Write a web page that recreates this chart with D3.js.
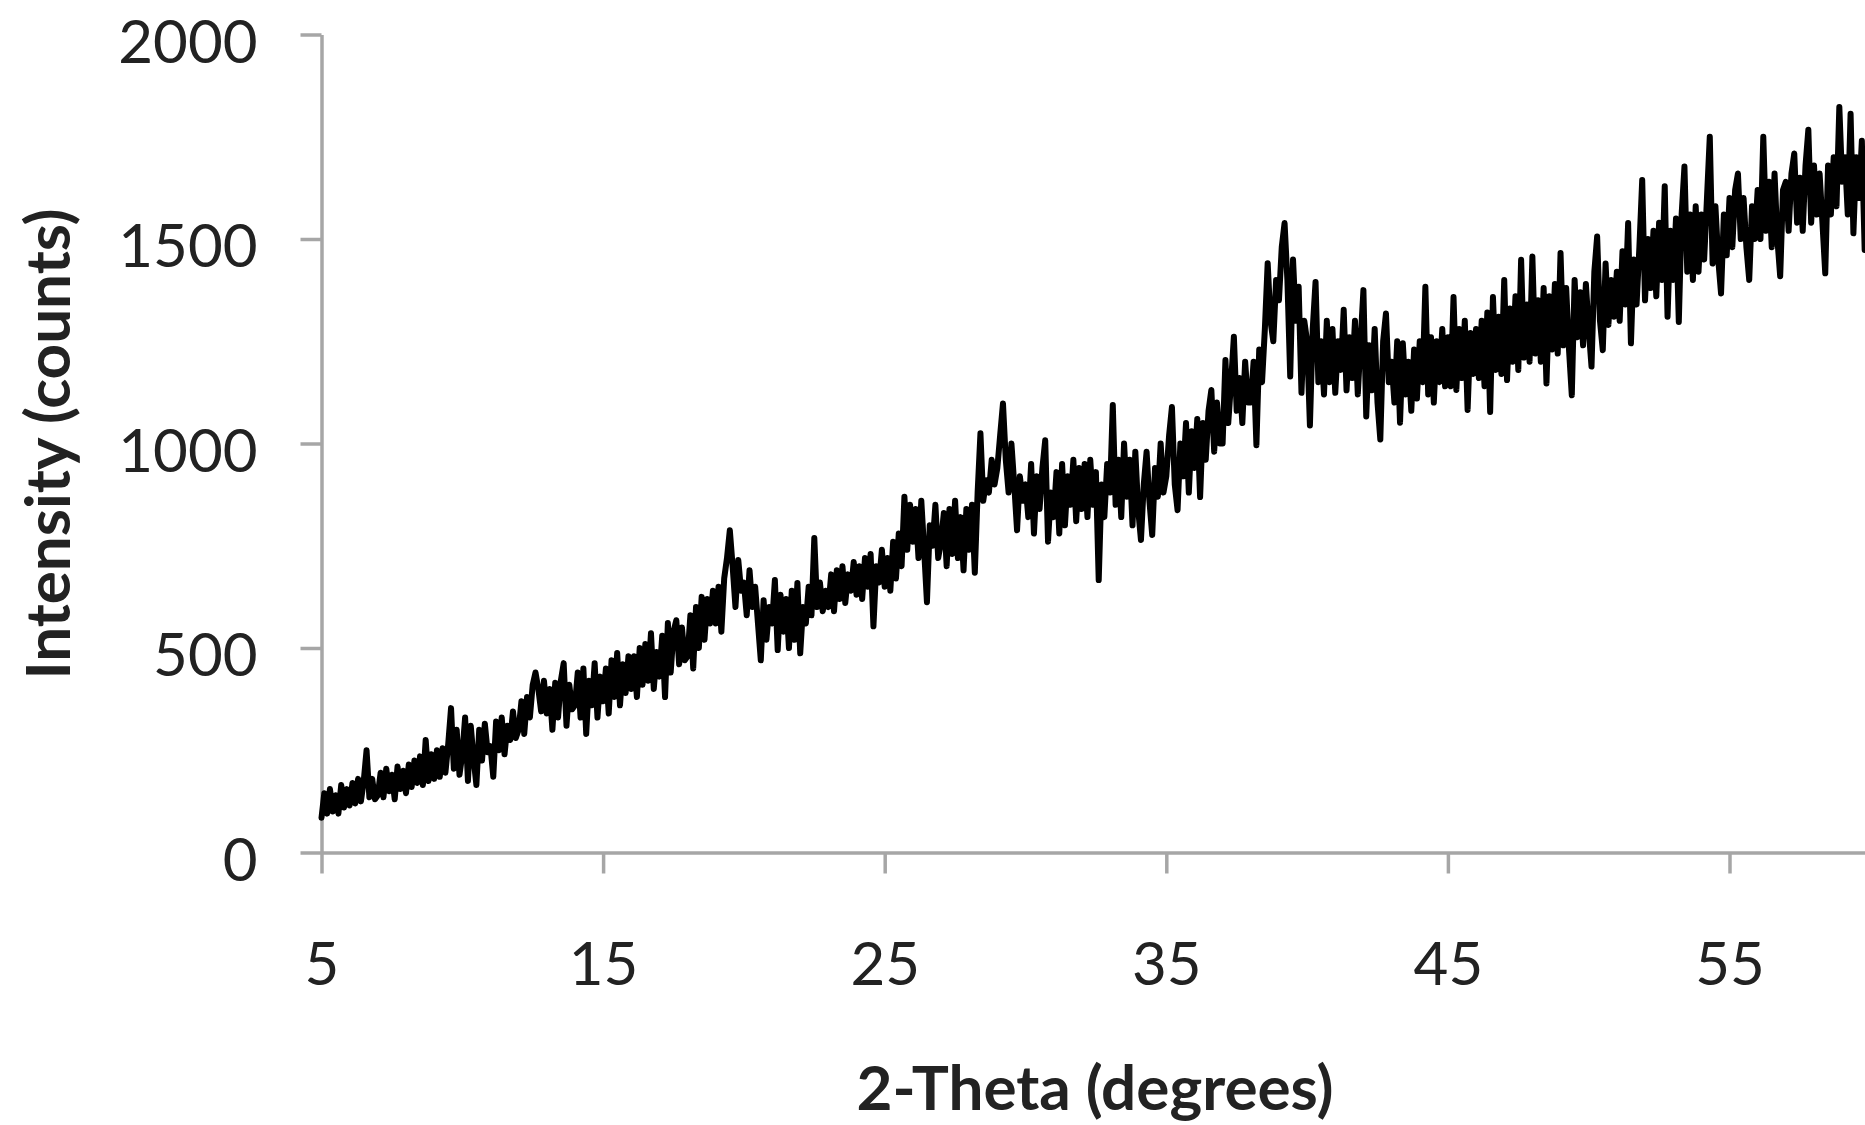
<!DOCTYPE html>
<html><head><meta charset="utf-8">
<script src="https://cdn.jsdelivr.net/npm/d3@7"></script>
<style>html,body{margin:0;padding:0;background:#fff;overflow:hidden;} svg{display:block;}</style>
</head><body>
<script>
// ---- data ----
const xTicks = [5, 15, 25, 35, 45, 55];
const yTicks = [0, 500, 1000, 1500, 2000];
const xTitle = "2-Theta (degrees)";
const yTitle = "Intensity (counts)";
const twoThetaStart = 5;   // degrees, first sample
const twoThetaStep = 0.1;  // degrees between samples
// intensity (counts), one row per degree (x.0 ... x.9)
const intensity = [
  85,145,95,155,100,140,95,165,110,155,          // 5
  115,170,120,180,125,175,250,135,180,130,       // 6
  140,195,135,205,150,190,130,210,155,200,       // 7
  145,215,160,225,170,235,165,275,175,240,       // 8
  180,250,185,255,195,265,353,205,300,190,       // 9
  240,330,175,310,230,165,300,225,315,245,       // 10
  260,185,320,250,330,240,310,275,345,280,       // 11
  300,370,290,380,330,410,440,400,345,420,       // 12
  340,400,300,415,330,420,463,310,410,350,       // 13
  360,440,330,450,290,420,360,463,330,430,       // 14
  370,450,340,470,380,488,360,460,390,480,       // 15
  400,480,380,500,410,510,420,536,400,490,       // 16
  430,530,380,561,440,540,568,460,550,470,       // 17
  480,580,450,600,500,625,520,620,560,640,       // 18
  560,650,540,670,720,788,700,600,715,640,       // 19
  660,580,690,600,650,560,470,617,520,600,       // 20
  560,666,495,630,540,620,500,640,520,659,       // 21
  487,600,560,650,580,769,600,660,590,640,       // 22
  600,680,590,690,620,700,610,680,640,710,       // 23
  630,700,620,720,650,730,553,700,660,740,       // 24
  650,720,640,760,670,780,700,870,740,850,       // 25
  760,840,720,860,740,612,800,750,850,720,       // 26
  760,830,700,840,730,860,720,820,690,840,       // 27
  740,850,684,880,1025,860,910,880,960,900,      // 28
  940,1020,1098,960,880,1000,900,788,920,860,    // 29
  900,820,950,780,920,840,940,1008,760,880,      // 30
  820,930,780,950,800,920,850,960,810,940,       // 31
  840,950,820,960,850,930,666,900,820,950,       // 32
  880,1094,850,960,820,1000,870,960,800,980,     // 33
  840,764,900,980,860,776,940,870,1000,880,      // 34
  920,1020,1089,900,837,1000,920,1050,880,1030,  // 35
  940,1060,869,1050,960,1080,1131,980,1100,1000, // 36
  1000,1204,1050,1150,1261,1080,1160,1050,1200,1100, // 37
  1100,1200,996,1230,1150,1280,1441,1300,1250,1400,  // 38
  1350,1480,1539,1400,1164,1450,1300,1383,1124,1300, // 39
  1250,1044,1280,1395,1150,1250,1120,1300,1150,1280, // 40
  1124,1250,1180,1327,1130,1260,1160,1300,1120,1250, // 41
  1375,1066,1240,1130,1280,1100,1010,1250,1318,1150, // 42
  1200,1100,1250,1051,1245,1120,1200,1080,1230,1110, // 43
  1250,1150,1383,1120,1260,1100,1250,1150,1280,1140, // 44
  1260,1140,1358,1131,1280,1160,1300,1082,1270,1170, // 45
  1280,1160,1300,1140,1320,1077,1358,1180,1310,1170, // 46
  1400,1155,1330,1200,1360,1180,1449,1210,1340,1200, // 47
  1457,1220,1350,1200,1380,1147,1360,1230,1390,1220, // 48
  1466,1240,1380,1230,1118,1400,1260,1370,1240,1390, // 49
  1280,1188,1420,1506,1300,1228,1440,1290,1400,1310, // 50
  1420,1300,1470,1340,1539,1245,1450,1340,1480,1644, // 51
  1350,1500,1380,1520,1360,1540,1400,1629,1310,1520, // 52
  1400,1550,1297,1560,1677,1420,1560,1400,1580,1420, // 53
  1560,1450,1600,1750,1440,1580,1450,1367,1560,1460, // 54
  1600,1480,1620,1660,1500,1600,1480,1400,1580,1500, // 55
  1620,1500,1750,1520,1640,1480,1660,1500,1409,1620, // 56
  1640,1520,1660,1709,1540,1650,1520,1680,1767,1540, // 57
  1680,1560,1660,1540,1416,1680,1560,1700,1580,1823, // 58
  1640,1700,1560,1806,1514,1700,1600,1740,1473,1680, // 59
  1650                                              // 60
];

// ---- drawing ----
const W = 1865, H = 1125;
const svg = d3.select("body").append("svg").attr("width", W).attr("height", H);

const x = d3.scaleLinear().domain([5, 65]).range([321.5, 321.5 + 60 * 28.16]);
const y = d3.scaleLinear().domain([0, 2000]).range([852.5, 34.5]);

const axisColor = "#a6a6a6";
const textColor = "#222";
const fontFam = "Lato, 'Open Sans', sans-serif";

// y axis
const gy = svg.append("g").attr("transform", `translate(${x(5)},0)`)
  .call(d3.axisLeft(y).tickValues(yTicks).tickSize(21).tickSizeOuter(0).tickPadding(43).tickFormat(d3.format("d")));
gy.select(".domain").attr("stroke", axisColor).attr("stroke-width", 3.5);
gy.selectAll(".tick line").attr("stroke", axisColor).attr("stroke-width", 3.5);
gy.selectAll(".tick text").attr("fill", textColor).attr("font-family", fontFam)
  .attr("font-size", 60).attr("dy", "0.46em");

// x axis
const gx = svg.append("g").attr("transform", `translate(0,${y(0)})`)
  .call(d3.axisBottom(x).tickValues(xTicks).tickSize(21).tickSizeOuter(0).tickFormat(d3.format("d")));
gx.select(".domain").attr("stroke", axisColor).attr("stroke-width", 3.5);
gx.selectAll(".tick line").attr("stroke", axisColor).attr("stroke-width", 3.5);
gx.selectAll(".tick text").attr("fill", textColor).attr("font-family", fontFam)
  .attr("font-size", 60).attr("y", 132.5).attr("dy", null);

// titles
svg.append("text").attr("transform", `translate(70,444) rotate(-90)`)
  .attr("text-anchor", "middle").attr("font-family", fontFam).attr("font-weight", "bold")
  .attr("font-size", 62).attr("fill", textColor).text(yTitle);
svg.append("text").attr("x", 1095).attr("y", 1110)
  .attr("text-anchor", "middle").attr("font-family", fontFam).attr("font-weight", "bold")
  .attr("font-size", 62).attr("fill", textColor).text(xTitle);

// the pattern
const line = d3.line()
  .x((d, i) => x(twoThetaStart + i * twoThetaStep))
  .y(d => y(d));
svg.append("path").datum(intensity)
  .attr("d", line)
  .attr("fill", "none").attr("stroke", "#000").attr("stroke-width", 6)
  .attr("stroke-linejoin", "round").attr("stroke-linecap", "round");
</script>
</body></html>
